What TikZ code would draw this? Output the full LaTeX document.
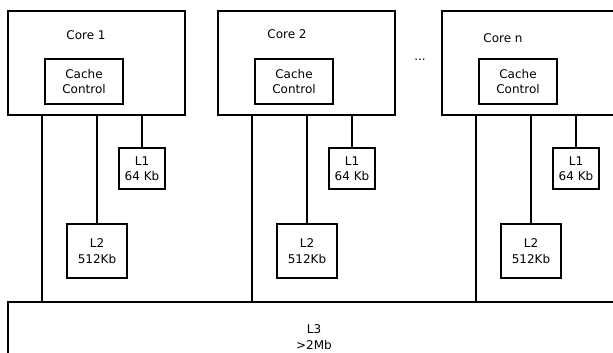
\documentclass[tikz,border=0pt]{standalone}
\usepackage{fontspec}
\setmainfont{DejaVu Sans}
\tikzset{
  box/.style={draw,line width=1.3pt,rectangle,inner sep=0pt,align=center},
  corebox/.style={box,minimum width=177pt,minimum height=104pt},
  ccbox/.style={box,minimum width=78pt,minimum height=45pt},
  lonebox/.style={box,minimum width=46pt,minimum height=41pt},
  ltwobox/.style={box,minimum width=60pt,minimum height=54pt},
  wire/.style={line width=1.2pt}
}
\begin{document}
\begin{tikzpicture}[x=1pt,y=-1pt,font=\fontsize{12}{15.5}\selectfont]
\clip (0,0) rectangle (613,353);
\fill[white] (0,0) rectangle (613,353);
% shared L3
\node[box,minimum width=612pt,minimum height=70pt] (l3) at (314,337) {L3\\ >2Mb};

\begin{scope}[shift={(0,0)}] % core 1
\node[corebox] (core1) at (96.5,63) {};
\node (lab1) at (86,35) {Core 1};
\node[ccbox] (cc1) at (84,81.5) {Cache\\Control};
\node[lonebox] (lone1) at (142,168.5) {L1\\64 Kb};
\node[ltwobox] (ltwo1) at (97,251) {L2\\512Kb};
\coordinate (bus1) at (42,302);
\draw[wire] (lone1.north) -- (lone1.north |- core1.south);
\draw[wire] (ltwo1.north) -- (ltwo1.north |- core1.south);
\draw[wire] (bus1) -- (bus1 |- core1.south);
\end{scope}

\begin{scope}[shift={(210,0)}] % core 2
\node[corebox] (core2) at (96.5,63) {};
\node (lab2) at (77,34) {Core 2};
\node[ccbox] (cc2) at (84,81.5) {Cache\\Control};
\node[lonebox] (lone2) at (142,168.5) {L1\\64 Kb};
\node[ltwobox] (ltwo2) at (97,251) {L2\\512Kb};
\coordinate (bus2) at (42,302);
\draw[wire] (lone2.north) -- (lone2.north |- core2.south);
\draw[wire] (ltwo2.north) -- (ltwo2.north |- core2.south);
\draw[wire] (bus2) -- (bus2 |- core2.south);
\end{scope}

\node (dots) at (420,60) {...};

\begin{scope}[shift={(434,0)}] % core n
\node[corebox] (coren) at (96.5,63) {};
\node (labn) at (69,38) {Core n};
\node[ccbox] (ccn) at (84,81.5) {Cache\\Control};
\node[lonebox] (lonen) at (142,168.5) {L1\\64 Kb};
\node[ltwobox] (ltwon) at (97,251) {L2\\512Kb};
\coordinate (busn) at (42,302);
\draw[wire] (lonen.north) -- (lonen.north |- coren.south);
\draw[wire] (ltwon.north) -- (ltwon.north |- coren.south);
\draw[wire] (busn) -- (busn |- coren.south);
\end{scope}
\end{tikzpicture}
\end{document}
